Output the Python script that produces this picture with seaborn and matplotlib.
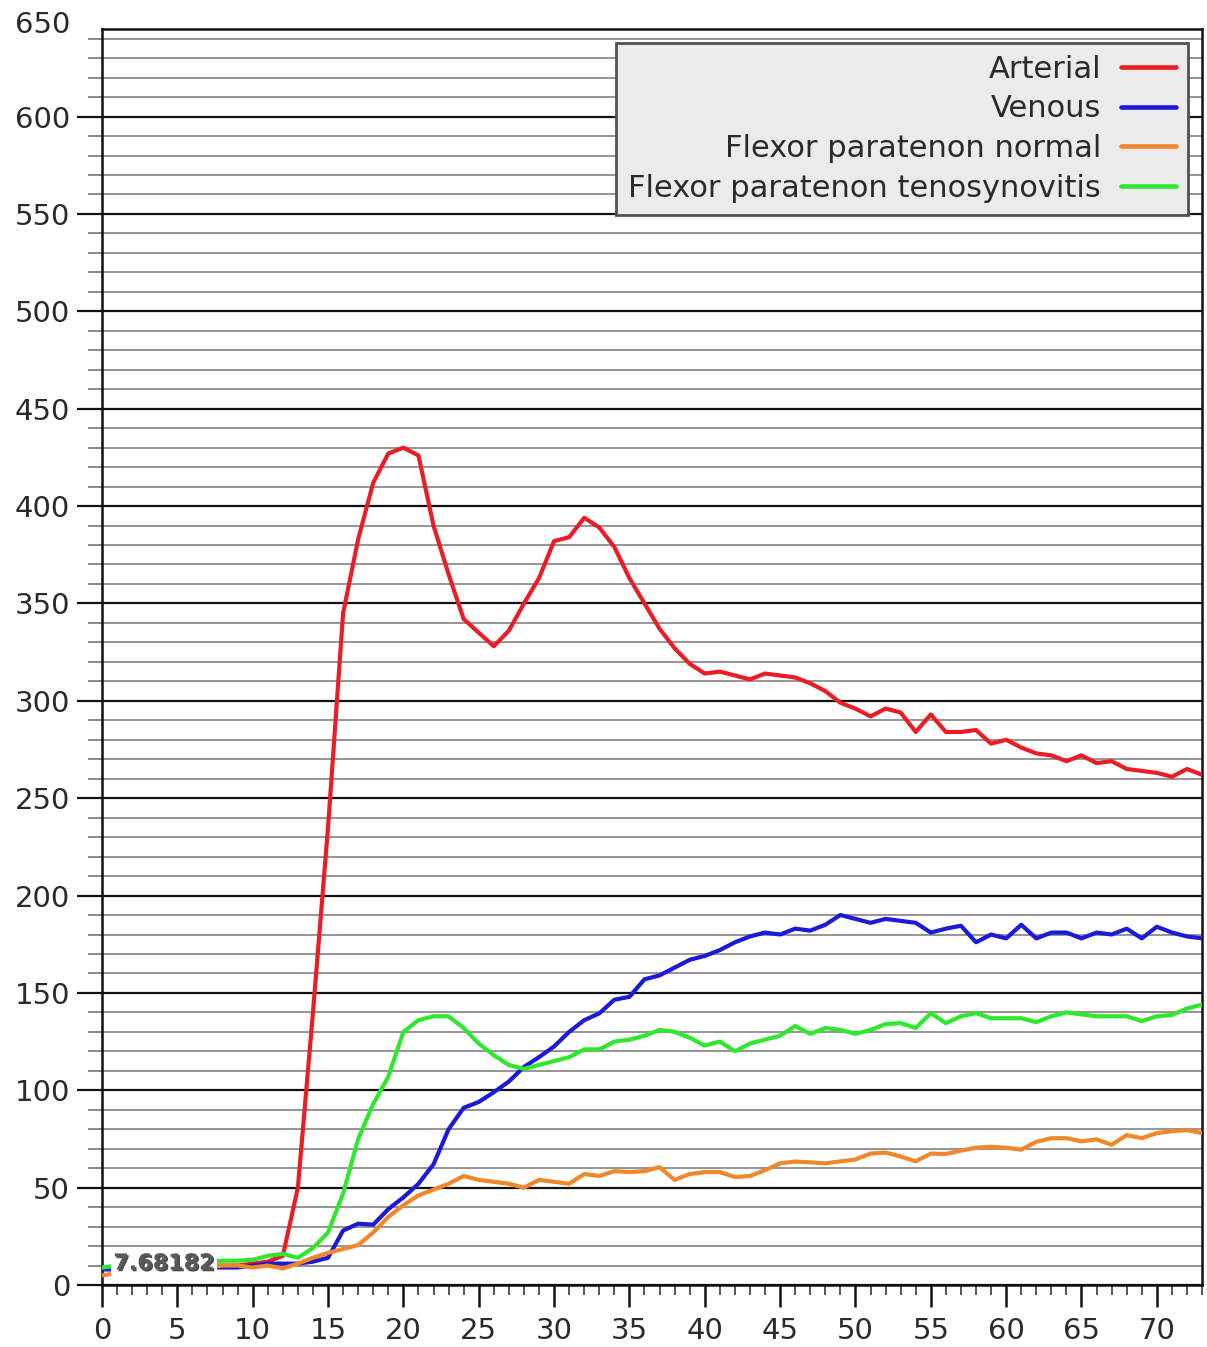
import numpy as np
import pandas as pd
import matplotlib
matplotlib.use("Agg")
import matplotlib.pyplot as plt
import matplotlib.patheffects as pe
from matplotlib.ticker import MultipleLocator
import seaborn as sns

# time axis (s), one sample per second
time_s = list(range(0, 74))

arterial = [
    9, 8, 8, 9, 9, 9, 10, 10, 10, 10, 11, 12, 15, 50, 140, 235, 345, 383, 412, 427,
    430, 426, 390, 365, 342, 335, 328, 336, 350, 363, 382, 384, 394, 389, 379, 363, 350, 337, 327, 319,
    314, 315, 313, 311, 314, 313, 312, 309, 305, 299, 296, 292, 296, 294, 284, 293, 284, 284, 285, 278,
    280, 276, 273, 272, 269, 272, 268, 269, 265, 264, 263, 261, 265, 262,
]
venous = [
    8, 8, 8, 9, 8, 8, 9, 9, 9, 9, 10, 11, 11, 11, 12, 14, 28, 31.5, 31, 39,
    45, 52, 62, 80, 91, 94, 99, 104.5, 112, 117, 122.5, 130, 136, 139.5, 146.5, 148, 157, 159, 163, 167,
    169, 172, 176, 179, 181, 180, 183, 182, 185, 190, 188, 186, 188, 187, 186, 181, 183, 184.5, 176, 180,
    178, 185, 178, 181, 181, 178, 181, 180, 183, 178, 184, 181, 179, 178,
]
flexor_normal = [
    5, 6, 8, 10, 9, 9, 10, 9, 10, 10, 9, 10, 8.5, 11, 14, 16.5, 18.5, 20.5, 27, 35,
    41, 46, 49, 52, 56, 54, 53, 52, 50, 54, 53, 52, 57, 56, 58.5, 58, 58.5, 60.5, 54, 57,
    58, 58, 55.5, 56, 59, 62.5, 63.4, 63, 62.5, 63.5, 64.5, 67.5, 68, 66, 63.5, 67.5, 67.3, 69, 70.5, 71,
    70.5, 69.5, 73.6, 75.4, 75.4, 73.8, 74.8, 72, 77, 75.4, 78, 79, 79.6, 78,
]
flexor_teno = [
    9, 10, 10, 11, 11, 11, 12, 12, 12.5, 12.5, 13, 15, 16, 14, 19, 27, 47, 75, 93, 107,
    130, 136, 138, 138, 132, 124, 118, 113, 111, 113, 115, 117, 121, 121, 125, 126, 128, 131, 130, 127,
    123, 125, 120, 124, 126, 128, 133, 129, 132, 131, 129, 131, 134, 134.5, 132, 139.6, 134.5, 138, 139.6, 137,
    137, 137, 135, 138, 140, 139, 138, 138, 138, 135.5, 138, 138.7, 142, 144,
]

series_names = ["Arterial", "Venous", "Flexor paratenon normal", "Flexor paratenon tenosynovitis"]
series_colors = ["#ec1c24", "#1a1ad8", "#f0872a", "#2ee82e"]
marker_label = "7.68182"

df = pd.concat([
    pd.DataFrame({"time": time_s, "value": vals, "series": name})
    for name, vals in zip(series_names, [arterial, venous, flexor_normal, flexor_teno])
])

sns.set_style("white")
plt.rcParams["font.family"] = ["DejaVu Sans"]

fig = plt.figure(figsize=(12.07, 13.47), dpi=100)
ax = fig.add_axes([0.0845, 0.046, 0.9114, 0.9325])

sns.lineplot(data=df, x="time", y="value", hue="series", hue_order=series_names,
             palette=series_colors, linewidth=3.0, ax=ax, legend=True, zorder=3)

ax.set_xlim(0, 73)
ax.set_ylim(0, 645)
ax.set_xlabel("")
ax.set_ylabel("")

ax.xaxis.set_major_locator(MultipleLocator(5))
ax.xaxis.set_minor_locator(MultipleLocator(1))
ax.yaxis.set_major_locator(MultipleLocator(50))
ax.yaxis.set_minor_locator(MultipleLocator(10))

# horizontal grid only: black majors, grey minors
ax.grid(False)
ax.yaxis.grid(True, which="major", color="#111111", linewidth=1.6, zorder=1)
ax.yaxis.grid(True, which="minor", color="#8c8c8c", linewidth=1.3, zorder=1)
ax.set_axisbelow(True)

ax.tick_params(axis="y", which="major", length=18, width=1.6, color="#111111",
               labelsize=21, labelcolor="#2a2a2a", pad=5, direction="out", left=True)
ax.tick_params(axis="y", which="minor", length=10, width=1.2, color="#777777",
               direction="out", left=True)
ax.tick_params(axis="x", which="major", length=16, width=1.8, color="#111111",
               labelsize=21, labelcolor="#2a2a2a", pad=7, direction="out", bottom=True)
ax.tick_params(axis="x", which="minor", length=7, width=1.4, color="#555555",
               direction="out", bottom=True)

for side in ["left", "bottom", "top", "right"]:
    ax.spines[side].set_color("#111111")
    ax.spines[side].set_linewidth(1.8)

# the top label is drawn even though the frame stops a little below it
ax.text(-0.029, 647, "650", transform=ax.get_yaxis_transform(), ha="right",
        va="center", fontsize=21, color="#2a2a2a", clip_on=False)

# cursor readout near the origin
ax.text(0.75, 11, marker_label, fontsize=16, fontweight="bold", color="#5a5a5a",
        ha="left", va="center", zorder=5,
        bbox=dict(facecolor="white", edgecolor="none", pad=1.5),
        path_effects=[pe.SimplePatchShadow(offset=(1.2, -1.2), shadow_rgbFace="#222222", alpha=0.8),
                      pe.Normal()])

handles, labels = ax.get_legend_handles_labels()
for h in handles:
    h.set_linewidth(3.3)
leg = ax.legend(handles, labels, loc="upper right", bbox_to_anchor=(0.987, 0.989),
                borderaxespad=0, markerfirst=False, fontsize=22, frameon=True,
                fancybox=False, framealpha=1, facecolor="#ebebeb", edgecolor="#505050",
                borderpad=0.39, labelspacing=0.35, handlelength=1.8, handletextpad=0.65)
leg.get_frame().set_linewidth(2.0)
for t in leg.get_texts():
    t.set_color("#2a2a2a")
leg.set_zorder(6)

fig.savefig("out.png", dpi=100)
